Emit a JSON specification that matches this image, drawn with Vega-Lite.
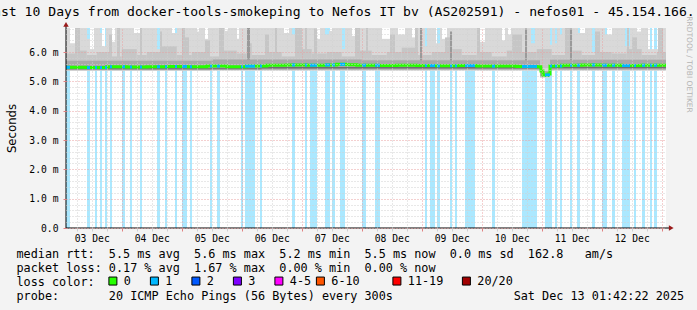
{
  "$schema": "https://vega.github.io/schema/vega-lite/v6.json",
  "width": 600,
  "height": 200,
  "autosize": {"type": "none"},
  "padding": {"left": 66, "top": 28, "right": 31, "bottom": 82},
  "background": "#f3f3f3",
  "config": {"view": {"fill": "#ffffff", "stroke": null}},
  "title": {
    "text": "Last 10 Days from docker-tools-smokeping to Nefos IT bv (AS202591) - nefos01 - 45.154.166.",
    "anchor": "start",
    "frame": "group",
    "dx": -80.8,
    "offset": -13,
    "font": "DejaVu Sans Mono",
    "fontSize": 13.1,
    "fontWeight": "normal",
    "color": "#000000",
    "baseline": "alphabetic"
  },
  "datasets": {
    "lossbars": [
      {"start": 1.7, "end": 3.3, "loss": "1", "median": 5.48},
      {"start": 10.1, "end": 11.3, "loss": "1", "median": 5.47},
      {"start": 13.3, "end": 14.1, "loss": "1", "median": 5.47},
      {"start": 15.3, "end": 16.1, "loss": "1", "median": 5.47},
      {"start": 17.3, "end": 18.1, "loss": "1", "median": 5.47},
      {"start": 19.3, "end": 20.1, "loss": "1", "median": 5.5},
      {"start": 24.1, "end": 25.3, "loss": "1", "median": 5.5},
      {"start": 27.3, "end": 28.1, "loss": "1", "median": 5.49},
      {"start": 31.3, "end": 32.1, "loss": "1", "median": 5.49},
      {"start": 38.1, "end": 39.3, "loss": "1", "median": 5.5},
      {"start": 41.3, "end": 42.1, "loss": "1", "median": 5.5},
      {"start": 45.3, "end": 46.1, "loss": "1", "median": 5.51},
      {"start": 48.1, "end": 50.1, "loss": "1", "median": 5.51},
      {"start": 51.3, "end": 52.1, "loss": "1", "median": 5.5},
      {"start": 59.3, "end": 60.1, "loss": "1", "median": 5.52},
      {"start": 62.1, "end": 63.3, "loss": "1", "median": 5.52},
      {"start": 71.7, "end": 72.5, "loss": "1", "median": 5.5},
      {"start": 73.3, "end": 77.3, "loss": "1", "median": 5.52},
      {"start": 79.3, "end": 80.1, "loss": "1", "median": 5.52},
      {"start": 92.1, "end": 93.3, "loss": "1", "median": 5.56},
      {"start": 97.3, "end": 98.1, "loss": "1", "median": 5.56},
      {"start": 99.3, "end": 102.1, "loss": "1", "median": 5.55},
      {"start": 105.3, "end": 107.3, "loss": "1", "median": 5.56},
      {"start": 108.1, "end": 109.3, "loss": "1", "median": 5.56},
      {"start": 111.3, "end": 113.3, "loss": "1", "median": 5.58},
      {"start": 120.1, "end": 121.7, "loss": "1", "median": 5.55},
      {"start": 125.3, "end": 127.3, "loss": "1", "median": 5.55},
      {"start": 145.3, "end": 146.1, "loss": "1", "median": 5.54},
      {"start": 147.3, "end": 149.3, "loss": "1", "median": 5.54},
      {"start": 150.1, "end": 151.3, "loss": "1", "median": 5.53},
      {"start": 155.3, "end": 156.1, "loss": "1", "median": 5.53},
      {"start": 157.3, "end": 158.1, "loss": "1", "median": 5.53},
      {"start": 161.3, "end": 165.3, "loss": "1", "median": 5.54},
      {"start": 172.1, "end": 173.3, "loss": "1", "median": 5.52},
      {"start": 184.1, "end": 190.1, "loss": "1", "median": 5.51},
      {"start": 193.3, "end": 195.3, "loss": "1", "median": 5.22},
      {"start": 195.3, "end": 196.1, "loss": "1", "median": 5.52},
      {"start": 197.3, "end": 198.1, "loss": "1", "median": 5.52},
      {"start": 199.3, "end": 200.1, "loss": "1", "median": 5.52},
      {"start": 203.3, "end": 204.1, "loss": "1", "median": 5.55},
      {"start": 206.1, "end": 207.3, "loss": "1", "median": 5.55},
      {"start": 212.1, "end": 213.3, "loss": "1", "median": 5.56},
      {"start": 216.1, "end": 218.1, "loss": "1", "median": 5.55},
      {"start": 220.1, "end": 221.3, "loss": "1", "median": 5.55},
      {"start": 224.1, "end": 227.3, "loss": "1", "median": 5.54},
      {"start": 228.9, "end": 229.7, "loss": "1", "median": 5.54},
      {"start": 232.1, "end": 233.3, "loss": "1", "median": 5.55},
      {"start": 235.3, "end": 236.1, "loss": "1", "median": 5.55},
      {"start": 236.9, "end": 238.1, "loss": "1", "median": 5.55}
    ],
    "smoke": [
      {"start": 1.7, "end": 3.3, "lo": 5.36, "hi": 7, "band": "b1"},
      {"start": 3.3, "end": 5.3, "lo": 5.36, "hi": 6.3, "band": "b1"},
      {"start": 5.3, "end": 10.1, "lo": 5.36, "hi": 7, "band": "b1"},
      {"start": 10.1, "end": 11.3, "lo": 5.36, "hi": 6.45, "band": "b1"},
      {"start": 11.3, "end": 12.9, "lo": 5.36, "hi": 6.1, "band": "b1"},
      {"start": 12.9, "end": 15.3, "lo": 5.36, "hi": 7, "band": "b1"},
      {"start": 15.3, "end": 16.1, "lo": 5.36, "hi": 6.65, "band": "b1"},
      {"start": 16.1, "end": 17.7, "lo": 5.36, "hi": 6.2, "band": "b1"},
      {"start": 17.7, "end": 20.1, "lo": 5.36, "hi": 7, "band": "b1"},
      {"start": 20.1, "end": 21.3, "lo": 5.36, "hi": 6.35, "band": "b1"},
      {"start": 21.3, "end": 28.9, "lo": 5.36, "hi": 7, "band": "b1"},
      {"start": 28.9, "end": 31.3, "lo": 5.36, "hi": 6.65, "band": "b1"},
      {"start": 31.3, "end": 38.1, "lo": 5.36, "hi": 7, "band": "b1"},
      {"start": 38.1, "end": 39.3, "lo": 5.36, "hi": 6.1, "band": "b1"},
      {"start": 39.3, "end": 44.1, "lo": 5.36, "hi": 7, "band": "b1"},
      {"start": 44.1, "end": 46.1, "lo": 5.36, "hi": 6.65, "band": "b1"},
      {"start": 46.1, "end": 54.1, "lo": 5.36, "hi": 7, "band": "b1"},
      {"start": 54.1, "end": 54.9, "lo": 5.36, "hi": 6.7, "band": "b1"},
      {"start": 54.9, "end": 57.3, "lo": 5.36, "hi": 7, "band": "b1"},
      {"start": 57.3, "end": 58.5, "lo": 5.36, "hi": 6.45, "band": "b1"},
      {"start": 58.5, "end": 65.3, "lo": 5.36, "hi": 7, "band": "b1"},
      {"start": 65.3, "end": 66.5, "lo": 5.36, "hi": 6.72, "band": "b1"},
      {"start": 66.5, "end": 70.1, "lo": 5.36, "hi": 7, "band": "b1"},
      {"start": 70.1, "end": 70.9, "lo": 5.36, "hi": 6.45, "band": "b1"},
      {"start": 70.9, "end": 88.9, "lo": 5.36, "hi": 7, "band": "b1"},
      {"start": 88.9, "end": 90.9, "lo": 5.36, "hi": 6.65, "band": "b1"},
      {"start": 90.9, "end": 92.1, "lo": 5.36, "hi": 7, "band": "b1"},
      {"start": 92.1, "end": 93.3, "lo": 5.36, "hi": 6.6, "band": "b1"},
      {"start": 93.3, "end": 102.1, "lo": 5.36, "hi": 7, "band": "b1"},
      {"start": 102.1, "end": 103.3, "lo": 5.36, "hi": 6.45, "band": "b1"},
      {"start": 103.3, "end": 105.3, "lo": 5.36, "hi": 7, "band": "b1"},
      {"start": 105.3, "end": 106.9, "lo": 5.36, "hi": 6.6, "band": "b1"},
      {"start": 106.9, "end": 108.1, "lo": 5.36, "hi": 6.72, "band": "b1"},
      {"start": 108.1, "end": 112.1, "lo": 5.36, "hi": 7, "band": "b1"},
      {"start": 112.1, "end": 113.3, "lo": 5.36, "hi": 6.1, "band": "b1"},
      {"start": 113.3, "end": 116.1, "lo": 5.36, "hi": 7, "band": "b1"},
      {"start": 116.1, "end": 117.3, "lo": 5.36, "hi": 6.55, "band": "b1"},
      {"start": 117.3, "end": 128.1, "lo": 5.36, "hi": 7, "band": "b1"},
      {"start": 128.1, "end": 131.3, "lo": 5.36, "hi": 6.45, "band": "b1"},
      {"start": 131.3, "end": 134.5, "lo": 5.36, "hi": 7, "band": "b1"},
      {"start": 134.5, "end": 137.3, "lo": 5.36, "hi": 6.6, "band": "b1"},
      {"start": 137.3, "end": 140.1, "lo": 5.36, "hi": 7, "band": "b1"},
      {"start": 140.1, "end": 141.3, "lo": 5.36, "hi": 6.5, "band": "b1"},
      {"start": 141.3, "end": 145.3, "lo": 5.36, "hi": 7, "band": "b1"},
      {"start": 145.3, "end": 146.1, "lo": 5.36, "hi": 6.2, "band": "b1"},
      {"start": 146.1, "end": 149.7, "lo": 5.36, "hi": 7, "band": "b1"},
      {"start": 149.7, "end": 151.3, "lo": 5.36, "hi": 6.3, "band": "b1"},
      {"start": 151.3, "end": 152.1, "lo": 5.36, "hi": 7, "band": "b1"},
      {"start": 152.1, "end": 154.1, "lo": 5.36, "hi": 6.45, "band": "b1"},
      {"start": 154.1, "end": 167.3, "lo": 5.36, "hi": 7, "band": "b1"},
      {"start": 167.3, "end": 169.3, "lo": 5.36, "hi": 6.35, "band": "b1"},
      {"start": 169.3, "end": 176.1, "lo": 5.36, "hi": 7, "band": "b1"},
      {"start": 176.1, "end": 177.3, "lo": 5.36, "hi": 6.4, "band": "b1"},
      {"start": 177.3, "end": 178.5, "lo": 5.36, "hi": 7, "band": "b1"},
      {"start": 178.5, "end": 179.7, "lo": 5.36, "hi": 6.6, "band": "b1"},
      {"start": 179.7, "end": 187.7, "lo": 5.36, "hi": 7, "band": "b1"},
      {"start": 187.7, "end": 189.3, "lo": 5.36, "hi": 6.3, "band": "b1"},
      {"start": 189.3, "end": 195.3, "lo": 5.36, "hi": 7, "band": "b1"},
      {"start": 195.3, "end": 196.1, "lo": 5.36, "hi": 6.25, "band": "b1"},
      {"start": 196.1, "end": 197.3, "lo": 5.36, "hi": 7, "band": "b1"},
      {"start": 197.3, "end": 198.1, "lo": 5.36, "hi": 6.3, "band": "b1"},
      {"start": 198.1, "end": 199.3, "lo": 5.36, "hi": 7, "band": "b1"},
      {"start": 199.3, "end": 200.1, "lo": 5.36, "hi": 6.6, "band": "b1"},
      {"start": 200.1, "end": 206.5, "lo": 5.36, "hi": 7, "band": "b1"},
      {"start": 206.5, "end": 209.3, "lo": 5.36, "hi": 6.65, "band": "b1"},
      {"start": 209.3, "end": 212.1, "lo": 5.36, "hi": 7, "band": "b1"},
      {"start": 212.1, "end": 213.3, "lo": 5.36, "hi": 6.0, "band": "b1"},
      {"start": 213.3, "end": 217.3, "lo": 5.36, "hi": 7, "band": "b1"},
      {"start": 217.3, "end": 220.1, "lo": 5.36, "hi": 6.6, "band": "b1"},
      {"start": 220.1, "end": 225.3, "lo": 5.36, "hi": 7, "band": "b1"},
      {"start": 225.3, "end": 227.3, "lo": 5.36, "hi": 6.2, "band": "b1"},
      {"start": 227.3, "end": 230.1, "lo": 5.36, "hi": 7, "band": "b1"},
      {"start": 230.1, "end": 231.7, "lo": 5.36, "hi": 6.7, "band": "b1"},
      {"start": 231.7, "end": 234.5, "lo": 5.36, "hi": 7, "band": "b1"},
      {"start": 234.5, "end": 238.5, "lo": 5.36, "hi": 6.1, "band": "b1"},
      {"start": 238.5, "end": 241.7, "lo": 5.36, "hi": 7, "band": "b1"},
      {"start": 191.3, "end": 195.5, "lo": 5.12, "hi": 5.4, "band": "b1"},
      {"start": 1.7, "end": 6, "lo": 5.45, "hi": 5.95, "band": "b2"},
      {"start": 6, "end": 10, "lo": 5.45, "hi": 6.05, "band": "b2"},
      {"start": 10, "end": 14, "lo": 5.45, "hi": 5.9, "band": "b2"},
      {"start": 14, "end": 19, "lo": 5.45, "hi": 6.0, "band": "b2"},
      {"start": 19, "end": 24, "lo": 5.45, "hi": 5.85, "band": "b2"},
      {"start": 24, "end": 30, "lo": 5.45, "hi": 6.1, "band": "b2"},
      {"start": 30, "end": 34, "lo": 5.45, "hi": 5.9, "band": "b2"},
      {"start": 34, "end": 40, "lo": 5.45, "hi": 6.0, "band": "b2"},
      {"start": 40, "end": 46, "lo": 5.45, "hi": 6.2, "band": "b2"},
      {"start": 46, "end": 52, "lo": 5.45, "hi": 5.9, "band": "b2"},
      {"start": 52, "end": 58, "lo": 5.45, "hi": 6.0, "band": "b2"},
      {"start": 58, "end": 64, "lo": 5.45, "hi": 5.85, "band": "b2"},
      {"start": 64, "end": 70, "lo": 5.45, "hi": 6.05, "band": "b2"},
      {"start": 70, "end": 74, "lo": 5.45, "hi": 5.95, "band": "b2"},
      {"start": 74, "end": 76, "lo": 5.45, "hi": 6.3, "band": "b2"},
      {"start": 76, "end": 82, "lo": 5.45, "hi": 5.9, "band": "b2"},
      {"start": 82, "end": 88, "lo": 5.45, "hi": 6.0, "band": "b2"},
      {"start": 88, "end": 94, "lo": 5.45, "hi": 5.85, "band": "b2"},
      {"start": 94, "end": 100, "lo": 5.45, "hi": 6.1, "band": "b2"},
      {"start": 100, "end": 106, "lo": 5.45, "hi": 5.95, "band": "b2"},
      {"start": 106, "end": 112, "lo": 5.45, "hi": 6.0, "band": "b2"},
      {"start": 112, "end": 118, "lo": 5.45, "hi": 5.85, "band": "b2"},
      {"start": 118, "end": 124, "lo": 5.45, "hi": 6.05, "band": "b2"},
      {"start": 124, "end": 130, "lo": 5.45, "hi": 5.9, "band": "b2"},
      {"start": 130, "end": 136, "lo": 5.45, "hi": 6.0, "band": "b2"},
      {"start": 136, "end": 142, "lo": 5.45, "hi": 6.15, "band": "b2"},
      {"start": 142, "end": 148, "lo": 5.45, "hi": 5.9, "band": "b2"},
      {"start": 148, "end": 154, "lo": 5.45, "hi": 6.0, "band": "b2"},
      {"start": 154, "end": 160, "lo": 5.45, "hi": 6.1, "band": "b2"},
      {"start": 160, "end": 166, "lo": 5.45, "hi": 5.9, "band": "b2"},
      {"start": 166, "end": 172, "lo": 5.45, "hi": 6.0, "band": "b2"},
      {"start": 172, "end": 178, "lo": 5.45, "hi": 5.85, "band": "b2"},
      {"start": 178, "end": 184, "lo": 5.45, "hi": 6.05, "band": "b2"},
      {"start": 184, "end": 190, "lo": 5.45, "hi": 6.0, "band": "b2"},
      {"start": 190, "end": 196, "lo": 5.45, "hi": 6.1, "band": "b2"},
      {"start": 196, "end": 202, "lo": 5.45, "hi": 5.9, "band": "b2"},
      {"start": 202, "end": 208, "lo": 5.45, "hi": 6.05, "band": "b2"},
      {"start": 208, "end": 214, "lo": 5.45, "hi": 5.9, "band": "b2"},
      {"start": 214, "end": 220, "lo": 5.45, "hi": 6.0, "band": "b2"},
      {"start": 220, "end": 226, "lo": 5.45, "hi": 5.95, "band": "b2"},
      {"start": 226, "end": 232, "lo": 5.45, "hi": 6.1, "band": "b2"},
      {"start": 232, "end": 238, "lo": 5.45, "hi": 5.9, "band": "b2"},
      {"start": 238, "end": 241.7, "lo": 5.45, "hi": 6.0, "band": "b2"},
      {"start": 5.3, "end": 7.3, "lo": 5.45, "hi": 7, "band": "b2"},
      {"start": 18.9, "end": 20.1, "lo": 5.45, "hi": 6.6, "band": "b2"},
      {"start": 22.1, "end": 23.3, "lo": 5.45, "hi": 7, "band": "b2"},
      {"start": 31.3, "end": 32.1, "lo": 5.45, "hi": 7, "band": "b2"},
      {"start": 39.3, "end": 40.1, "lo": 5.45, "hi": 6.7, "band": "b2"},
      {"start": 48.1, "end": 49.3, "lo": 5.45, "hi": 7, "band": "b2"},
      {"start": 49.3, "end": 50.9, "lo": 5.45, "hi": 6.5, "band": "b2"},
      {"start": 57.3, "end": 59.3, "lo": 5.45, "hi": 6.4, "band": "b2"},
      {"start": 62.9, "end": 64.9, "lo": 5.45, "hi": 7, "band": "b2"},
      {"start": 81.3, "end": 82.9, "lo": 5.45, "hi": 6.6, "band": "b2"},
      {"start": 85.3, "end": 86.1, "lo": 5.45, "hi": 7, "band": "b2"},
      {"start": 93.3, "end": 96.1, "lo": 5.45, "hi": 7, "band": "b2"},
      {"start": 97.3, "end": 98.1, "lo": 5.45, "hi": 7, "band": "b2"},
      {"start": 100.9, "end": 102.1, "lo": 5.45, "hi": 6.8, "band": "b2"},
      {"start": 117.3, "end": 119.3, "lo": 5.45, "hi": 7, "band": "b2"},
      {"start": 121.7, "end": 122.5, "lo": 5.45, "hi": 7, "band": "b2"},
      {"start": 131.3, "end": 133.3, "lo": 5.45, "hi": 6.6, "band": "b2"},
      {"start": 141.3, "end": 142.5, "lo": 5.45, "hi": 7, "band": "b2"},
      {"start": 153.3, "end": 155.3, "lo": 5.45, "hi": 6.5, "band": "b2"},
      {"start": 166.1, "end": 167.3, "lo": 5.45, "hi": 7, "band": "b2"},
      {"start": 180.1, "end": 184.1, "lo": 5.45, "hi": 6.6, "band": "b2"},
      {"start": 201.3, "end": 203.3, "lo": 5.45, "hi": 7, "band": "b2"},
      {"start": 213.3, "end": 215.3, "lo": 5.45, "hi": 6.7, "band": "b2"},
      {"start": 226.1, "end": 226.9, "lo": 5.45, "hi": 7, "band": "b2"},
      {"start": 228.1, "end": 230.1, "lo": 5.45, "hi": 6.5, "band": "b2"},
      {"start": 238.5, "end": 240.5, "lo": 5.45, "hi": 7, "band": "b2"},
      {"start": 74.1, "end": 75.3, "lo": 5.55, "hi": 7, "band": "b5"},
      {"start": 143.3, "end": 144.1, "lo": 5.55, "hi": 7, "band": "b5"},
      {"start": 155.3, "end": 156.1, "lo": 5.6, "hi": 6.7, "band": "b5"},
      {"start": 185.3, "end": 186.1, "lo": 5.6, "hi": 6.8, "band": "b5"},
      {"start": 203.3, "end": 204.1, "lo": 5.6, "hi": 6.8, "band": "b5"},
      {"start": 1.7, "end": 60, "lo": 5.38, "hi": 5.7, "band": "b3"},
      {"start": 60, "end": 120, "lo": 5.4, "hi": 5.75, "band": "b3"},
      {"start": 120, "end": 191.3, "lo": 5.4, "hi": 5.72, "band": "b3"},
      {"start": 191.3, "end": 195.3, "lo": 5.15, "hi": 5.35, "band": "b3"},
      {"start": 195.3, "end": 241.7, "lo": 5.4, "hi": 5.74, "band": "b3"},
      {"start": 1.7, "end": 80, "lo": 5.41, "hi": 5.45, "band": "b4"},
      {"start": 80, "end": 191.3, "lo": 5.44, "hi": 5.49, "band": "b4"},
      {"start": 195.3, "end": 241.7, "lo": 5.45, "hi": 5.5, "band": "b4"}
    ],
    "median": [
      {"t": 1.7, "med": 5.48}, {"t": 10, "med": 5.47}, {"t": 18, "med": 5.5},
      {"t": 26, "med": 5.49}, {"t": 34, "med": 5.5}, {"t": 42, "med": 5.51},
      {"t": 50, "med": 5.5}, {"t": 58, "med": 5.52}, {"t": 66, "med": 5.5},
      {"t": 74, "med": 5.52}, {"t": 82, "med": 5.55}, {"t": 90, "med": 5.56},
      {"t": 98, "med": 5.55}, {"t": 106, "med": 5.56}, {"t": 110, "med": 5.58},
      {"t": 114, "med": 5.57}, {"t": 118, "med": 5.55}, {"t": 126, "med": 5.54},
      {"t": 134, "med": 5.55}, {"t": 142, "med": 5.54}, {"t": 150, "med": 5.53},
      {"t": 158, "med": 5.54}, {"t": 166, "med": 5.52}, {"t": 174, "med": 5.52},
      {"t": 182, "med": 5.51}, {"t": 190, "med": 5.5}, {"t": 191.7, "med": 5.35},
      {"t": 192.5, "med": 5.22}, {"t": 193.3, "med": 5.2}, {"t": 194.5, "med": 5.25},
      {"t": 195.3, "med": 5.52}, {"t": 200, "med": 5.55}, {"t": 208, "med": 5.56},
      {"t": 216, "med": 5.55}, {"t": 224, "med": 5.54}, {"t": 232, "med": 5.55},
      {"t": 241.7, "med": 5.55}
    ]
  },
  "layer": [
    {
      "data": {"name": "lossbars"},
      "mark": {"type": "rect", "fillOpacity": 0.33},
      "encoding": {
        "x": {
          "field": "start",
          "type": "quantitative",
          "scale": {"domain": [1.7, 241.7], "nice": false, "zero": false},
          "axis": {
            "orient": "bottom",
            "values": [6, 12, 18, 24, 30, 36, 42, 48, 54, 60, 66, 72, 78, 84, 90, 96, 102, 108, 114, 120, 126, 132, 138, 144, 150, 156, 162, 168, 174, 180, 186, 192, 198, 204, 210, 216, 222, 228, 234, 240],
            "labelExpr": "datum.value % 24 == 12 ? ((floor(datum.value / 24) + 3 < 10 ? '0' : '') + (floor(datum.value / 24) + 3) + ' Dec') : ''",
            "labelOverlap": false,
            "labelFlush": false,
            "labelFont": "DejaVu Sans Mono",
            "labelFontSize": 9.7,
            "labelColor": "#000000",
            "labelBaseline": "alphabetic",
            "labelPadding": 10,
            "grid": true,
            "gridColor": {"condition": {"test": "datum.value % 24 == 0", "value": "#e8a0a0"}, "value": "#d0d0d0"},
            "gridDash": [1, 2],
            "gridWidth": 1,
            "domain": false,
            "tickSize": 3,
            "tickColor": {"condition": {"test": "datum.value % 24 == 0", "value": "#e08080"}, "value": "#d0d0d0"},
            "title": [
              "median rtt:\u00a0\u00a05.5 ms avg\u00a0\u00a05.6 ms max\u00a0\u00a05.2 ms min\u00a0\u00a05.5 ms now\u00a0\u00a00.0 ms sd\u00a0\u00a0162.8\u00a0\u00a0\u00a0am/s",
              "packet loss: 0.17 % avg\u00a0\u00a01.67 % max\u00a0\u00a00.00 % min\u00a0\u00a00.00 % now",
              "loss color:",
              "probe:\u00a0\u00a0\u00a0\u00a0\u00a0\u00a0\u00a020 ICMP Echo Pings (56 Bytes) every 300s\u00a0\u00a0\u00a0\u00a0\u00a0\u00a0\u00a0\u00a0\u00a0\u00a0\u00a0\u00a0\u00a0\u00a0\u00a0\u00a0\u00a0Sat Dec 13 01:42:22 2025"
            ],
            "titleX": -50,
            "titleY": 29,
            "titleAlign": "left",
            "titleAnchor": "start",
            "titleBaseline": "alphabetic",
            "titleFont": "DejaVu Sans Mono",
            "titleFontSize": 11.8,
            "titleFontWeight": "normal",
            "titleColor": "#000000",
            "titleLineHeight": 14,
            "zindex": 1
          }
        },
        "x2": {"field": "end"},
        "fill": {
          "field": "loss",
          "type": "nominal",
          "scale": {
            "domain": ["0", "1", "2", "3", "4-5", "6-10", "11-19", "20/20"],
            "range": ["#26ff00", "#00b8ff", "#0059ff", "#7e00ff", "#ff00ff", "#ff5500", "#ff0000", "#a10000"]
          },
          "legend": {
            "orient": "none",
            "legendX": 41,
            "legendY": 247,
            "direction": "horizontal",
            "columns": 8,
            "gridAlign": "each",
            "title": null,
            "padding": 0,
            "symbolType": "square",
            "symbolSize": 64,
            "symbolStrokeColor": "#000000",
            "symbolStrokeWidth": 1,
            "symbolOpacity": 1,
            "labelFont": "DejaVu Sans Mono",
            "labelFontSize": 11.8,
            "labelColor": "#000000",
            "labelOffset": 5,
            "labelLimit": 300,
            "columnPadding": 1.5,
            "labelExpr": "datum.label == '6-10' ? '6-10\u00a0\u00a0\u00a0\u00a0\u200b' : datum.label == '11-19' ? '11-19\u00a0\u00a0\u200b' : (datum.label == '4-5' || datum.label == '20/20') ? datum.label : datum.label + '\u00a0\u00a0\u200b'",
            "encode": {
              "symbols": {"update": {"stroke": {"value": "#000000"}, "strokeWidth": {"value": 1}, "opacity": {"value": 1}, "fillOpacity": {"value": 1}}}
            }
          }
        }
      }
    },
    {
      "data": {"name": "smoke"},
      "mark": {"type": "rect", "clip": true},
      "encoding": {
        "x": {"field": "start", "type": "quantitative", "scale": {"domain": [1.7, 241.7], "nice": false, "zero": false}, "axis": null},
        "x2": {"field": "end"},
        "y": {
          "field": "lo",
          "type": "quantitative",
          "scale": {"domain": [0, 6.82], "nice": false, "zero": true},
          "axis": {
            "values": [0, 0.2, 0.4, 0.6, 0.8, 1, 1.2, 1.4, 1.6, 1.8, 2, 2.2, 2.4, 2.6, 2.8, 3, 3.2, 3.4, 3.6, 3.8, 4, 4.2, 4.4, 4.6, 4.8, 5, 5.2, 5.4, 5.6, 5.8, 6, 6.2, 6.4, 6.6, 6.8],
            "labelExpr": "abs(datum.value - round(datum.value)) < 0.01 ? (datum.value == 0 ? '0.0' : format(datum.value, '.1f') + ' m') : ''",
            "labelOverlap": false,
            "labelFlush": false,
            "labelFont": "DejaVu Sans Mono",
            "labelFontSize": 9.7,
            "labelColor": "#000000",
            "labelPadding": 5,
            "labelBaseline": "middle",
            "grid": true,
            "gridColor": {"condition": {"test": "abs(datum.value - round(datum.value)) < 0.01", "value": "#e8a0a0"}, "value": "#d0d0d0"},
            "gridDash": [1, 2],
            "gridWidth": 1,
            "domain": false,
            "tickSize": 3,
            "tickColor": {"condition": {"test": "abs(datum.value - round(datum.value)) < 0.01", "value": "#e08080"}, "value": "transparent"},
            "title": "Seconds",
            "titleFont": "DejaVu Sans",
            "titleFontSize": 11.7,
            "titleFontWeight": "normal",
            "titleColor": "#000000",
            "titleX": -55,
            "titleY": 100,
            "titleAlign": "center",
            "titleBaseline": "middle",
            "titleAngle": -90,
            "zindex": 1
          }
        },
        "y2": {"field": "hi"},
        "color": {
          "field": "band",
          "type": "nominal",
          "scale": {"domain": ["b1", "b2", "b3", "b4", "b5"], "range": ["#d9d9d9", "#c6c6c6", "#a8a8a8", "#6e6e6e", "#9a9a9a"]},
          "legend": null
        }
      }
    },
    {
      "data": {"name": "median"},
      "mark": {"type": "line", "interpolate": "step-after", "strokeWidth": 3, "color": "#26ff00", "strokeCap": "butt"},
      "encoding": {
        "x": {"field": "t", "type": "quantitative", "axis": null},
        "y": {
          "field": "med",
          "type": "quantitative",
          "axis": {
            "orient": "right",
            "title": "RRDTOOL / TOBI OETIKER",
            "labels": false,
            "ticks": false,
            "domain": false,
            "grid": false,
            "titleFont": "DejaVu Sans",
            "titleFontSize": 7.5,
            "titleFontWeight": "normal",
            "titleColor": "#b4b4b4",
            "titleAngle": 90,
            "titleX": 22,
            "titleY": 36,
            "titleAlign": "center",
            "titleBaseline": "middle"
          }
        }
      }
    },
    {
      "data": {"name": "lossbars"},
      "mark": {"type": "rule", "strokeWidth": 3, "color": "#00b8ff", "strokeCap": "butt"},
      "encoding": {
        "x": {"field": "start", "type": "quantitative", "axis": null},
        "x2": {"field": "end"},
        "y": {"field": "median", "type": "quantitative", "axis": null}
      }
    },
    {
      "data": {"values": [{}]},
      "mark": {"type": "rule", "color": "#000000", "strokeWidth": 1},
      "encoding": {
        "x": {"datum": 1.7, "type": "quantitative", "axis": null},
        "x2": {"datum": 243.4},
        "y": {"datum": 0, "type": "quantitative", "axis": null}
      }
    },
    {
      "data": {"values": [{}]},
      "mark": {"type": "rule", "color": "#000000", "strokeWidth": 1},
      "encoding": {
        "x": {"datum": 1.7, "type": "quantitative", "axis": null},
        "y": {"datum": 0, "type": "quantitative", "axis": null},
        "y2": {"datum": 6.9}
      }
    },
    {
      "data": {"values": [{}]},
      "mark": {"type": "point", "shape": "triangle-right", "filled": true, "color": "#9a1a1a", "size": 30, "opacity": 1},
      "encoding": {
        "x": {"datum": 243.8, "type": "quantitative", "axis": null},
        "y": {"datum": 0, "type": "quantitative", "axis": null}
      }
    },
    {
      "data": {"values": [{}]},
      "mark": {"type": "point", "shape": "triangle-up", "filled": true, "color": "#9a1a1a", "size": 30, "opacity": 1},
      "encoding": {
        "x": {"datum": 1.7, "type": "quantitative", "axis": null},
        "y": {"datum": 6.94, "type": "quantitative", "axis": null}
      }
    }
  ],
  "resolve": {"axis": {"x": "independent", "y": "independent"}}
}
